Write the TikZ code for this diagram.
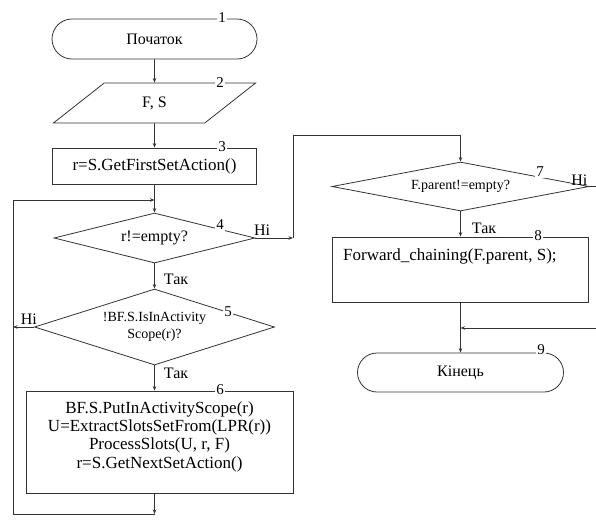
\documentclass[tikz,border=0pt]{standalone}
\usepackage{fontspec}
\setmainfont{Liberation Serif}
\usetikzlibrary{shapes.geometric,shapes.misc,arrows.meta}

\tikzset{
	line/.style={draw=black!80, line width=0.8pt},
	arr/.style={line, -{Stealth[length=4.5pt,width=3.5pt]}},
	term/.style={rounded rectangle, line, inner sep=0pt},
	box/.style={rectangle, line, inner sep=0pt},
	decide/.style={diamond, line, inner sep=0pt, align=center},
	io/.style={trapezium, trapezium left angle=46.5, trapezium right angle=133.5,
		trapezium stretches=true, line, inner sep=0pt},
	num/.style={fill=white, inner sep=1.5pt, font=\fontsize{15}{15}\selectfont},
	lbl/.style={inner sep=0pt, font=\fontsize{16}{16}\selectfont},
	code/.style={font=\fontsize{17}{18.3}\selectfont},
}

\begin{document}
\begin{tikzpicture}[x=1pt, y=-1pt, font=\fontsize{16}{18.3}\selectfont]
	\useasboundingbox (0,0) rectangle (596,520);
	% left column
	\node[term, minimum width=205pt, minimum height=40pt] (t1) at (154.5,39) {Початок};
	\node[io, minimum width=203pt, minimum height=40pt] (p2) at (154.5,103) {F, S};
	\node[box, code, minimum width=204pt, minimum height=36pt] (b3) at (154.5,166) {r=S.GetFirstSetAction()};
	\node[decide, shape aspect=4, minimum width=201pt, minimum height=50pt] (d4) at (154.5,238) {r!=empty?};
	\node[decide, shape aspect=3.16, minimum width=240pt, minimum height=76pt, font=\fontsize{14}{17}\selectfont] (d5) at (154.5,327) {!BF.S.IsInActivity\\Scope(r)?};
	\node[box, minimum width=267pt, minimum height=102pt] (b6) at (159.5,442) {};
	\node[code, align=center, anchor=north] (s6) at (159.5,398) {BF.S.PutInActivityScope(r)\\U=ExtractSlotsSetFrom(LPR(r))\\ProcessSlots(U, r, F)\\r=S.GetNextSetAction()};
	% right column
	\node[decide, shape aspect=5.24, minimum width=257pt, minimum height=49pt, font=\fontsize{14}{14}\selectfont] (d7) at (460.5,186.5) {F.parent!=empty?};
	\node[box, minimum width=256pt, minimum height=65pt] (b8) at (460.5,269.5) {};
	\node[code, anchor=west, inner sep=0pt] (s8) at (343,256) {Forward\_chaining(F.parent, S);};
	\node[term, minimum width=206pt, minimum height=39pt] (t9) at (460.5,372.5) {Кінець};

	\coordinate (lp) at (154.5,514);
	\coordinate (c1) at (13,514);
	\coordinate (c2) at (154.5,200);
	\coordinate (c3) at (13,327);
	\coordinate (c4) at (293,238);
	\coordinate (c5) at (293,135);
	\coordinate (c6) at (596,186.5);
	\coordinate (c7) at (596,328);

	\draw[arr] (t1) -- (p2);
	\draw[arr] (p2) -- (b3);
	\draw[arr] (b3) -- (d4);
	\draw[arr] (d4) -- node[lbl, pos=0.65, anchor=west, xshift=9pt] {Так} (d5);
	\draw[arr] (d5) -- node[lbl, pos=0.3, anchor=west, xshift=9pt] {Так} (d5.south |- b6.north);
	\draw[arr] (d5.west) -- node[lbl, pos=0.25, above=2pt] {Ні} (c3);
	\draw[arr] (lp |- b6.south) -- (lp);
	\draw[arr] (lp) -- (c1) |- (c2);
	\draw[arr] (d4.east) -- node[lbl, pos=0.18, above=2pt] {Ні} (c4);
	\draw[arr] (c4) -- (c5) -| (d7.north);
	\draw[line] (d7.east) -- (c6) node[lbl, pos=0, above=1pt, xshift=-10pt] {Ні};
	\draw[arr] (d7) -- node[lbl, pos=0.69, anchor=west, xshift=11pt] {Так} (b8);
	\draw[arr] (b8) -- (t9);
	\draw[arr] (c7) -- (b8.south |- c7);

	% block numbers
	\foreach \k/\x/\y in {1/222/18, 2/220/83, 3/222/147, 4/220/225, 5/228/312,
		6/220/390, 7/540/172, 8/538/236, 9/541/350}
		\node[num] (n\k) at (\x,\y) {\k};
\end{tikzpicture}
\end{document}
